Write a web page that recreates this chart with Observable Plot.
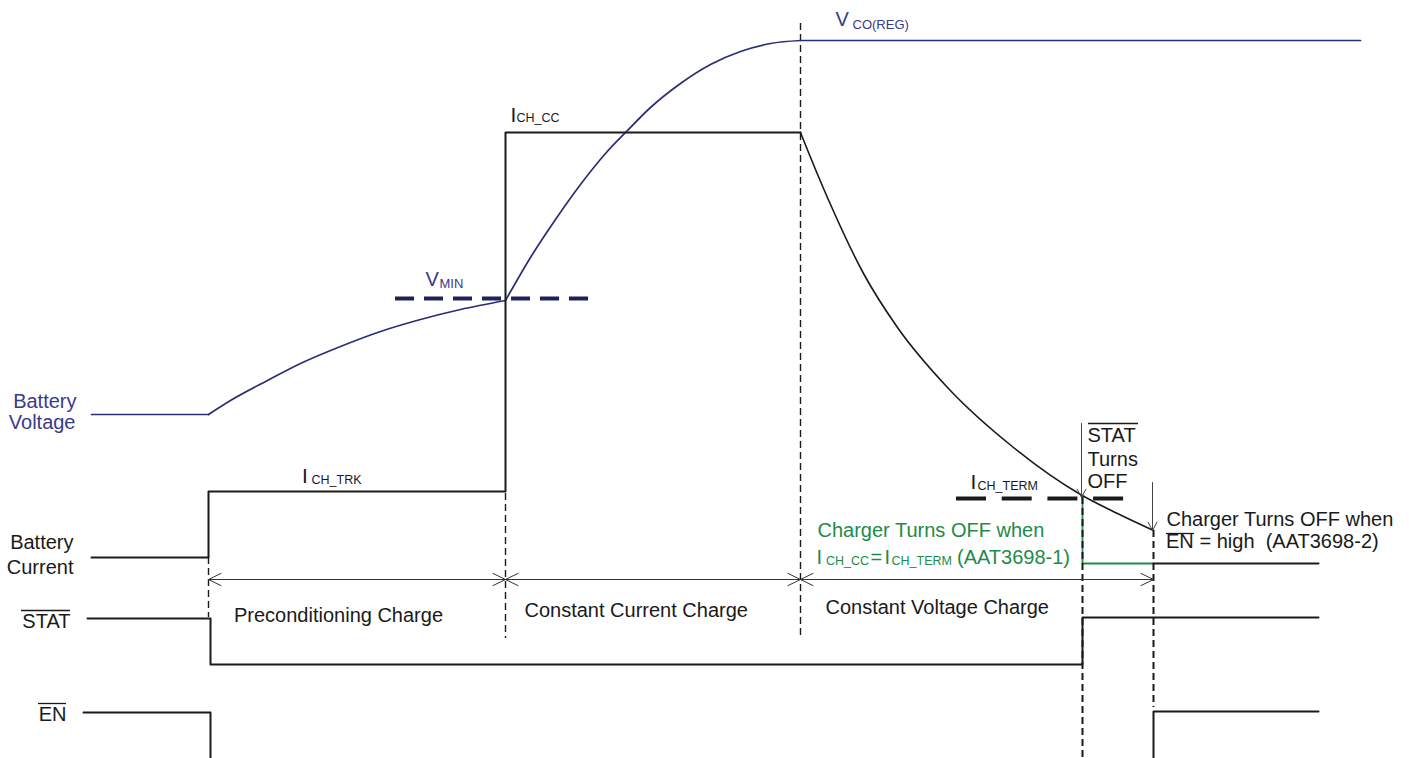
<!DOCTYPE html>
<html><head><meta charset="utf-8">
<script src="https://cdn.jsdelivr.net/npm/d3@7"></script>
<script src="https://cdn.jsdelivr.net/npm/@observablehq/plot@0.6"></script>
<style>
html,body{margin:0;padding:0;background:#fff;}
#chart svg{display:block;}
</style></head><body><div id="chart"></div>
<script>
// ---- data: [time, level] pairs (level grows downward on the diagram) ----
const voltageIdle    = [[91,414],[208,414]];
const voltagePrecond = [[208,414],[230,400],[267,380],[300,363],[340,346],[380,331],[420,319],[460,309],[505,300]];
const voltageCC      = [[505,300],[530,257],[555,219],[580,184],[605,153],[626,131],[650,107],[680,83],[710,64],[740,51],[770,43],[800,40]];
const voltageReg     = [[800,40],[1360,40]];

const currentSteps   = [[91,557],[208,557],[208,491],[505,491],[505,132],[800,132]];
const currentCV      = [[800,132],[815,169],[830,204],[863,273],[897,327],[947,387],[1013,447],[1080,494],[1117,513],[1153,530]];
const currentOff     = [[1153,563],[1318,563]];
const currentTermOff = [[1082,497],[1082,563],[1153,563]];

const statSignal = [[87,618],[210,618],[210,664],[1082,664],[1082,617],[1318,617]];
const enSignal   = [[83,712],[210,712],[210,764],[1153,764],[1153,711],[1318,711]];

// phase / event boundaries: [time, from level, to level]
const phaseBounds = [[208,557,617],[505,493,638],[800,23,638]];
const eventBounds = [[1082,497,758],[1153,530,707]];
const phaseMarkers = [208,505,800,1153];
const dimensionLevel = 579;

// thresholds: [t1, t2, level]
const vMinThreshold  = [[395,588,298]];
const iTermThreshold = [[956,1124,498]];

// annotation arrows: [t, from level, to level]
const eventArrows = [[1081,423,497],[1152,482,530]];

// labels: [text, time, baseline level]
const voltageLabel = [["Battery",76,407],["Voltage",75,428]];
const currentLabel = [["Battery",73,548],["Current",73,573]];
const signalLabel  = [["STAT",70,627],["EN",66,720]];
const phaseLabel   = [["Preconditioning Charge",233.5,621],["Constant Current Charge",524,616],["Constant Voltage Charge",825,613]];
const statNote     = [["STAT",1087,441],["Turns",1087,465],["OFF",1087,487]];
const enNote       = [["Charger Turns OFF when",1166,525],["EN",1165.5,547],["= high  (AAT3698-2)",1199,547]];
const greenNote    = [["Charger Turns OFF when",817,536],["I",816,563],["=",870,563],["I",884,563],["(AAT3698-1)",956.5,563]];
const greenSubs    = [["CH_CC",825.5,564],["CH_TERM",891,564]];
const currentMain  = [["I",301.5,482],["I",510,121],["I",970,488]];
const currentSubs  = [["CH_TRK",311,483],["CH_CC",516,121],["CH_TERM",977,489]];
const voltageMain  = [["V",425,285],["V",835,25]];
const voltageSubs  = [["MIN",439,287],["CO(REG)",852,28]];
// inverted-signal bars over STAT / EN: [t1, t2, level]
const signalBars   = [[21,70,610],[38,66,703],[1088,1138,423],[1166,1194,533]];

// ---- styling ----
const NAVY = "#2a2d78", NAVY_TXT = "#383b8c", NAVY_DASH = "#1f2259", GREEN = "#1e8b47", INK = "#1a1a1a";
const FONT = "'Liberation Sans', Arial, Helvetica, sans-serif";

const pts = (arr, seg) => arr.map(([t, lv]) => ({t, lv, seg}));
const lbl = arr => arr.map(([text, t, lv]) => ({text, t, lv}));
const txt = (arr, opts) => Plot.text(lbl(arr), {x: "t", y: "lv", text: "text", lineAnchor: "bottom", textAnchor: "start", fontSize: 20, fill: INK, ...opts});

const voltage = [...pts(voltageIdle,"a"), ...pts(voltagePrecond,"b"), ...pts(voltageCC,"c"), ...pts(voltageReg,"d")];
const bounds = arr => arr.map(([t, a, b]) => ({t, a, b}));
const thr = arr => arr.map(([t1, t2, lv]) => ({t1, t2, lv}));

const dimArrows = [];
for (let i = 0; i < phaseMarkers.length - 1; ++i) {
  const a = phaseMarkers[i], b = phaseMarkers[i + 1];
  dimArrows.push({x1: b, x2: a, lv: dimensionLevel}, {x1: a, x2: b, lv: dimensionLevel});
}

const chart = Plot.plot({
  width: 1409, height: 758, margin: 0,
  x: {domain: [0, 1409], range: [0, 1409], axis: null},
  y: {domain: [0, 758], range: [0, 758], axis: null},
  style: {fontFamily: FONT, background: "#fff"},
  marks: [
    Plot.line(pts(currentTermOff), {x: "t", y: "lv", stroke: GREEN, strokeWidth: 1.8}),
    Plot.ruleX(bounds(phaseBounds), {x: "t", y1: "a", y2: "b", stroke: INK, strokeWidth: 1.4, strokeDasharray: "7,4"}),
    Plot.ruleX(bounds(eventBounds), {x: "t", y1: "a", y2: "b", stroke: INK, strokeWidth: 2, strokeDasharray: "7,4"}),
    Plot.ruleY(thr(vMinThreshold), {y: "lv", x1: "t1", x2: "t2", stroke: NAVY_DASH, strokeWidth: 4, strokeDasharray: "19,10"}),
    Plot.ruleY(thr(iTermThreshold), {y: "lv", x1: "t1", x2: "t2", stroke: INK, strokeWidth: 4, strokeDasharray: "30,15.7"}),
    Plot.line(voltage, {x: "t", y: "lv", z: "seg", stroke: NAVY, strokeWidth: 1.7, curve: "monotone-x"}),
    Plot.line(pts(currentSteps), {x: "t", y: "lv", stroke: INK, strokeWidth: 2}),
    Plot.line(pts(currentCV), {x: "t", y: "lv", stroke: INK, strokeWidth: 1.6, curve: "monotone-x"}),
    Plot.line(pts(currentOff), {x: "t", y: "lv", stroke: INK, strokeWidth: 2}),
    Plot.line(pts(statSignal), {x: "t", y: "lv", stroke: INK, strokeWidth: 2}),
    Plot.line(pts(enSignal), {x: "t", y: "lv", stroke: INK, strokeWidth: 2}),
    Plot.arrow(dimArrows, {x1: "x1", x2: "x2", y1: "lv", y2: "lv", stroke: "#333", strokeWidth: 1, headLength: 21, headAngle: 52}),
    Plot.arrow(bounds(eventArrows), {x1: "t", x2: "t", y1: "a", y2: "b", stroke: "#444", strokeWidth: 1, headLength: 14, headAngle: 56}),
    Plot.ruleY(thr(signalBars), {y: "lv", x1: "t1", x2: "t2", stroke: INK, strokeWidth: 1.3}),
    txt(voltageLabel, {textAnchor: "end", fill: NAVY_TXT}),
    txt(currentLabel, {textAnchor: "end"}),
    txt(signalLabel, {textAnchor: "end"}),
    txt(phaseLabel, {}),
    txt(statNote, {}),
    txt(enNote, {}),
    txt(greenNote, {fill: GREEN}),
    txt(greenSubs, {fill: GREEN, fontSize: 12.5}),
    txt(currentMain, {fontSize: 21}),
    txt(currentSubs, {fontSize: 12.5}),
    txt(voltageMain, {fontSize: 20, fill: NAVY_TXT}),
    txt(voltageSubs, {fontSize: 13, fill: NAVY_TXT})
  ]
});

document.getElementById("chart").appendChild(chart);
</script></body></html>
